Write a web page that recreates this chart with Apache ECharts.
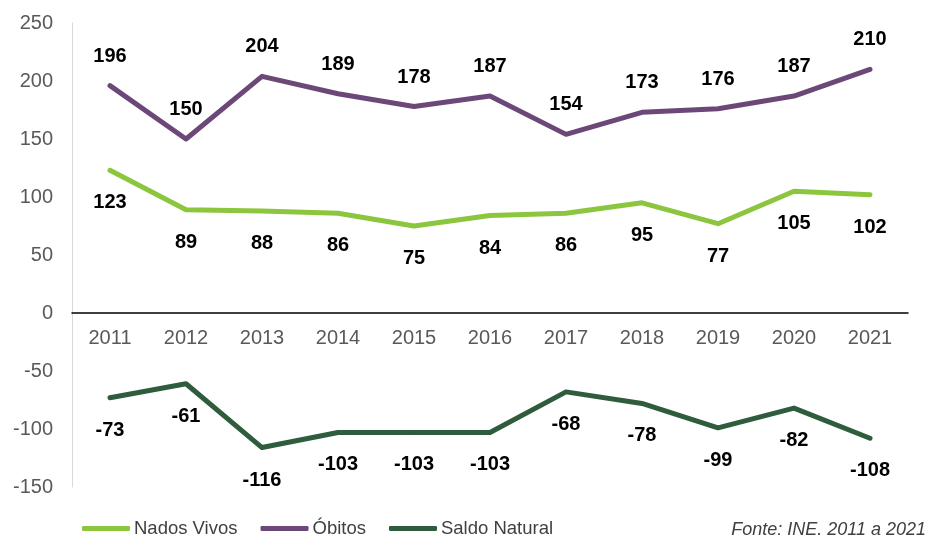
<!DOCTYPE html>
<html>
<head>
<meta charset="utf-8">
<script src="https://cdn.jsdelivr.net/npm/echarts@6/dist/echarts.min.js"></script>
<style>
  html, body { margin: 0; padding: 0; background: #fff; }
  #chart { width: 928px; height: 538px; }
</style>
</head>
<body>
<div id="chart"></div>
<script>
// Movimento natural da população, 2011–2021
const years = ['2011', '2012', '2013', '2014', '2015', '2016', '2017', '2018', '2019', '2020', '2021'];
const nadosVivos = [123, 89, 88, 86, 75, 84, 86, 95, 77, 105, 102];
const obitos = [196, 150, 204, 189, 178, 187, 154, 173, 176, 187, 210];
const saldoNatural = [-73, -61, -116, -103, -103, -103, -68, -78, -99, -82, -108];
const yTicks = { min: -150, max: 250, interval: 50 };

const FONT = '"Liberation Sans", Arial, sans-serif';
const GRID = { left: 72, right: 20, top: 23, bottom: 51 };
const PLOT_H = 538 - GRID.top - GRID.bottom;
// distance from the bottom edge of the plot up to the value 0
const zeroLift = PLOT_H * (0 - yTicks.min) / (yTicks.max - yTicks.min);

function lineSeries(name, data, color, labelPos, dist) {
  return {
    name: name,
    type: 'line',
    data: data,
    symbol: 'circle',
    symbolSize: 1,
    showSymbol: true,
    itemStyle: { color: color },
    lineStyle: { color: color, width: 5, cap: 'round', join: 'round' },
    label: {
      show: true,
      position: labelPos,
      distance: dist,
      color: '#000',
      fontFamily: FONT,
      fontSize: 20,
      fontWeight: 'bold'
    },
    emphasis: { disabled: true },
    animation: false
  };
}

const chart = echarts.init(document.getElementById('chart'), null, { renderer: 'canvas' });
chart.setOption({
  backgroundColor: '#fff',
  animation: false,
  grid: Object.assign({ containLabel: false }, GRID),
  xAxis: {
    type: 'category',
    data: years,
    boundaryGap: true,
    position: 'bottom',
    offset: -zeroLift,
    axisLine: { show: true, onZero: false, lineStyle: { color: '#000', width: 1.5 } },
    axisTick: { show: false },
    axisLabel: { color: '#595959', fontFamily: FONT, fontSize: 20, margin: 15 },
    splitLine: { show: false }
  },
  yAxis: {
    type: 'value',
    min: yTicks.min,
    max: yTicks.max,
    interval: yTicks.interval,
    axisLine: { show: true, lineStyle: { color: '#d9d9d9', width: 1 } },
    axisTick: { show: false },
    axisLabel: { color: '#595959', fontFamily: FONT, fontSize: 20, margin: 19 },
    splitLine: { show: false }
  },
  legend: {
    data: ['Nados Vivos', 'Óbitos', 'Saldo Natural'],
    left: 77,
    top: 514,
    icon: 'roundRect',
    itemWidth: 48,
    itemHeight: 5,
    itemGap: 23,
    textStyle: { color: '#404040', fontFamily: FONT, fontSize: 18.5, padding: [0, 0, 0, -1] }
  },
  graphic: [{
    type: 'text',
    right: 2,
    top: 521,
    style: {
      text: 'Fonte: INE. 2011 a 2021',
      fill: '#404040',
      font: 'italic 18px ' + FONT
    }
  }],
  series: [
    lineSeries('Nados Vivos', nadosVivos, '#8cc63e', 'bottom', 22),
    lineSeries('Óbitos', obitos, '#6b4878', 'top', 19),
    lineSeries('Saldo Natural', saldoNatural, '#2e5c3c', 'bottom', 22)
  ]
});
</script>
</body>
</html>
